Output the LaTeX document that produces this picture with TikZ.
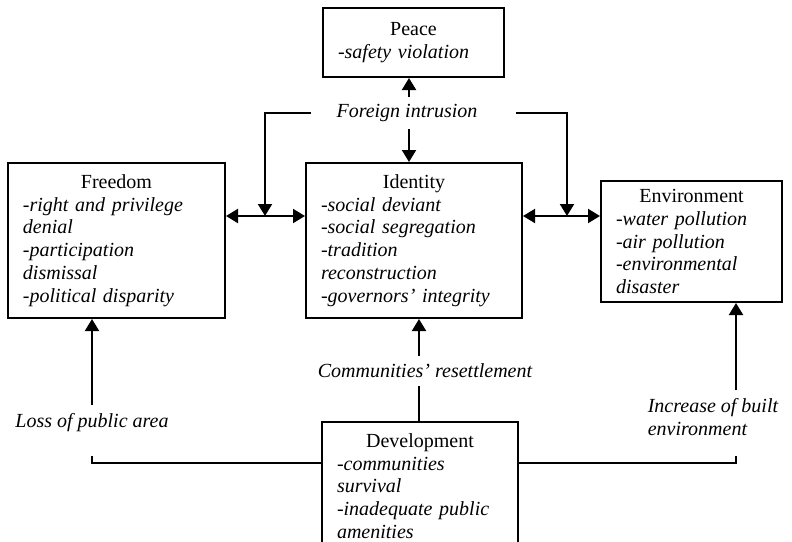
\documentclass[tikz,border=0pt]{standalone}
\usepackage{fontspec}
\setmainfont{Liberation Serif}
\usetikzlibrary{arrows.meta}

\newcommand{\boxtitle}[1]{\makebox[\linewidth]{#1}\\}

\tikzset{
	box/.style = {draw, line width = 1pt, inner xsep = 7.5pt, inner ysep = 0pt, align = left,
		font = \fontsize{10}{11.4}\selectfont},
	lbl/.style = {font = \fontsize{10}{11.4}\selectfont\itshape, inner xsep = 0pt, inner ysep = 4pt},
	Tri/.tip = {Triangle[length = 6pt, width = 7pt]},
	link/.style = {line width = 1pt, -Tri},
	dlink/.style = {line width = 1pt, Tri-Tri},
	wire/.style = {line width = 1pt}
}

\begin{document}
\begin{tikzpicture}[x = 0.5pt, y = -0.5pt]

	\clip (0, 0) rectangle (792, 541);

	% Dimension boxes

	\node [box, minimum width = 90.5pt, minimum height = 34.5pt, text width = 75.5pt] (peace) at (413.5, 42.5)
		{\boxtitle{Peace}\itshape -safety violation};

	\node [box, minimum width = 108.5pt, minimum height = 77.5pt, text width = 93.5pt] (freedom) at (116.5, 240.5)
		{\boxtitle{Freedom}\itshape -right and privilege\\ denial\\ -participation\\ dismissal\\ -political disparity};

	\node [box, minimum width = 108pt, minimum height = 77.5pt, text width = 93pt] (identity) at (414, 240.5)
		{\boxtitle{Identity}\itshape -social deviant\\ -social segregation\\ -tradition\\ reconstruction\\ -governors' integrity};

	\node [box, minimum width = 90.5pt, minimum height = 60.5pt, text width = 75.5pt] (environment) at (691.5, 241.5)
		{\boxtitle{Environment}\itshape -water pollution\\ -air pollution\\ -environmental\\ disaster};

	\node [box, minimum width = 98pt, minimum height = 64pt, text width = 83pt] (development) at (420, 486)
		{\boxtitle{Development}\itshape -communities\\ survival\\ -inadequate public\\ amenities};

	% Cause labels

	\node [lbl, inner ysep = 3.5pt] (foreign) at (407, 113) {Foreign intrusion};
	\node [lbl] (resettle) at (425, 371) {Communities' resettlement};
	\node [lbl] (loss) at (92, 423) {Loss of public area};
	\node [lbl, align = left] (built) at (713, 417) {Increase of built\\ environment};

	% Junction points

	\coordinate (fx) at (409, 113);		% foreign intrusion arrows
	\coordinate (jl) at (265, 216);		% freedom / identity link
	\coordinate (jr) at (567, 216);		% identity / environment link
	\coordinate (rx) at (419, 371);		% resettlement arrow
	\coordinate (dj) at (420, 463);		% development side lines
	\coordinate (lb) at (92, 456);		% below loss label
	\coordinate (rb) at (736, 456);		% below built label

	% Foreign intrusion

	\draw [link] (fx |- foreign.north) -- (fx |- peace.south);
	\draw [link] (fx |- foreign.south) -- (fx |- identity.north);
	\draw [link] ([xshift = -12.5pt] foreign.west) -| (jl);
	\draw [link] ([xshift = 19pt] foreign.east) -| (jr);

	\draw [dlink] (freedom.east |- jl) -- (identity.west |- jl);
	\draw [dlink] (identity.east |- jr) -- (environment.west |- jr);

	% Development

	\draw [link] (rx |- resettle.north) -- (rx |- identity.south);
	\draw [wire] (development.north -| rx) -- (rx |- resettle.south);

	\draw [link] (loss.north) -- (loss.north |- freedom.south);
	\draw [wire] (lb) |- (development.west |- dj);

	\draw [link] (rb |- built.north) -- (rb |- environment.south);
	\draw [wire] (rb) |- (development.east |- dj);

\end{tikzpicture}
\end{document}
